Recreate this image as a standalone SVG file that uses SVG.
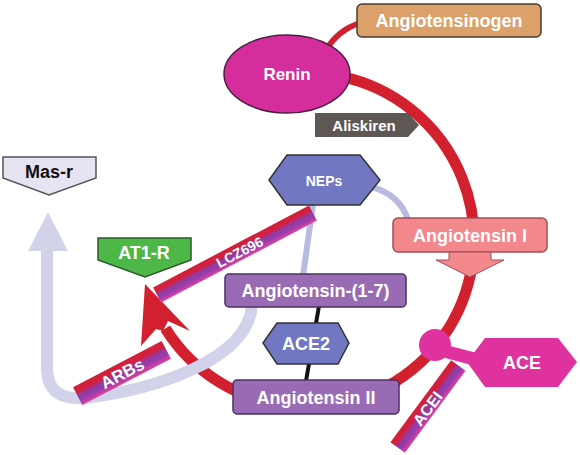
<svg xmlns="http://www.w3.org/2000/svg" width="580" height="455" viewBox="0 0 580 455">
<defs>
<linearGradient id="drug" x1="0" y1="0" x2="0" y2="1">
<stop offset="0" stop-color="#D41F35"/>
<stop offset="0.3" stop-color="#D02044"/>
<stop offset="0.5" stop-color="#8E3CA8"/>
<stop offset="0.72" stop-color="#9A3CAA"/>
<stop offset="1" stop-color="#E040A0"/>
</linearGradient>
<style>
text{font-family:"Liberation Sans",Arial,sans-serif;font-weight:bold;text-anchor:middle;dominant-baseline:central;fill:#fff}
.red{fill:none;stroke:#D3202E}
.lav{fill:none;stroke:#D2D3EA;stroke-width:12}
.lav2{fill:none;stroke:#B9BAE0;stroke-width:6}
.purple{fill:#9A6BB5;stroke:#4A3060;stroke-width:1.5}
.hex{fill:#7277C2;stroke:#333;stroke-width:1.5}
.mag{fill:#E0329E}
</style>
</defs>
<rect width="580" height="455" fill="#fff"/>
<g id="connectors">
<path class="red" stroke-width="6" d="M 326 50 Q 338 30 360 23"/>
<path class="red" stroke-width="11" d="M 341.7 76.6 A 167 167 0 1 1 165.4 328.5"/>
<polygon fill="#D3202E" points="145,284 190,331 168,321 163,331 156,329 141,346"/>
<path class="lav" d="M 47 248 L 47 368 Q 47 401 85 398 C 150 390 248 362 252 305"/>
<polygon fill="#D2D3EA" points="48,212 68,251 28,251"/>
<path class="lav2" d="M 313 204 L 303 276"/>
<path class="lav2" d="M 372 187 Q 400 195 408 220"/>
<path stroke="#111" stroke-width="4" d="M 319 306 L 306 381"/>
</g>
<g id="drugs">
<g id="lcz696" transform="translate(235,254) rotate(-27.7)">
<rect x="-88" y="-8.5" width="176" height="17" fill="url(#drug)"/>
<text x="5" y="0.5" font-size="14">LCZ696</text>
</g>
<g id="arbs" transform="translate(122,373) rotate(-27.6)">
<rect x="-50" y="-10" width="100" height="20" fill="url(#drug)"/>
<text x="0" y="1" font-size="17">ARBs</text>
</g>
<g id="acei" transform="translate(428,406.5) rotate(-53.5)">
<rect x="-51" y="-9" width="102" height="18" fill="url(#drug)"/>
<text x="-2" y="1" font-size="16">ACEI</text>
</g>
</g>
<g id="angiotensinogen">
<rect x="357" y="4" width="184" height="33" rx="5" fill="#DCA06B" stroke="#4A3A30" stroke-width="1.5"/>
<text x="449" y="20.5" font-size="18">Angiotensinogen</text>
</g>
<g id="renin">
<ellipse cx="287" cy="74" rx="63" ry="39" fill="#D62D9C" stroke="#4A2040" stroke-width="1.5"/>
<text x="287" y="74" font-size="17">Renin</text>
</g>
<g id="aliskiren">
<polygon points="315,113 408,113 419,125 408,137 315,137" fill="#5E5753"/>
<text x="364" y="125.5" font-size="15">Aliskiren</text>
</g>
<g id="mas-r">
<polygon points="3,157 96,157 96,178 49,195 3,178" fill="#E6E4F3" stroke="#555" stroke-width="1.5"/>
<text x="49" y="172" font-size="18" style="fill:#111">Mas-r</text>
</g>
<g id="at1-r">
<polygon points="98,238 191,238 191,260 145,277 98,260" fill="#4DB748" stroke="#2D5A2A" stroke-width="1.5"/>
<text x="144" y="253" font-size="18">AT1-R</text>
</g>
<g id="neps">
<polygon class="hex" points="269,180 287,155 360,155 380,180 360,205 287,205"/>
<text x="324" y="180.5" font-size="14">NEPs</text>
</g>
<g id="angiotensin-i">
<rect x="393" y="218" width="154" height="34" rx="5" fill="#F2878C" stroke="#A05058" stroke-width="1.5"/>
<polygon points="449,252 491,252 491,260 504,260 470,277 436,260 449,260" fill="#F2878C" stroke="#A05058" stroke-width="1"/>
<text x="470" y="235.5" font-size="18">Angiotensin I</text>
</g>
<g id="angiotensin-1-7">
<rect x="225" y="274" width="181" height="33" rx="4" class="purple"/>
<text x="315.5" y="291" font-size="18">Angiotensin-(1-7)</text>
</g>
<g id="ace2">
<polygon class="hex" points="263,343 277,323 338,323 349,343 338,364 277,364"/>
<text x="306" y="344" font-size="18">ACE2</text>
</g>
<g id="angiotensin-ii">
<rect x="233" y="380" width="166" height="34" rx="4" class="purple"/>
<text x="316" y="397.5" font-size="18">Angiotensin II</text>
</g>
<g id="ace">
<path d="M 440 350 L 478 360" stroke="#E0329E" stroke-width="13"/>
<circle cx="435" cy="345" r="16" class="mag"/>
<polygon class="mag" points="467,362 485,338 558,338 577,362 558,387 485,387"/>
<text x="522" y="363" font-size="18">ACE</text>
</g>
</svg>
